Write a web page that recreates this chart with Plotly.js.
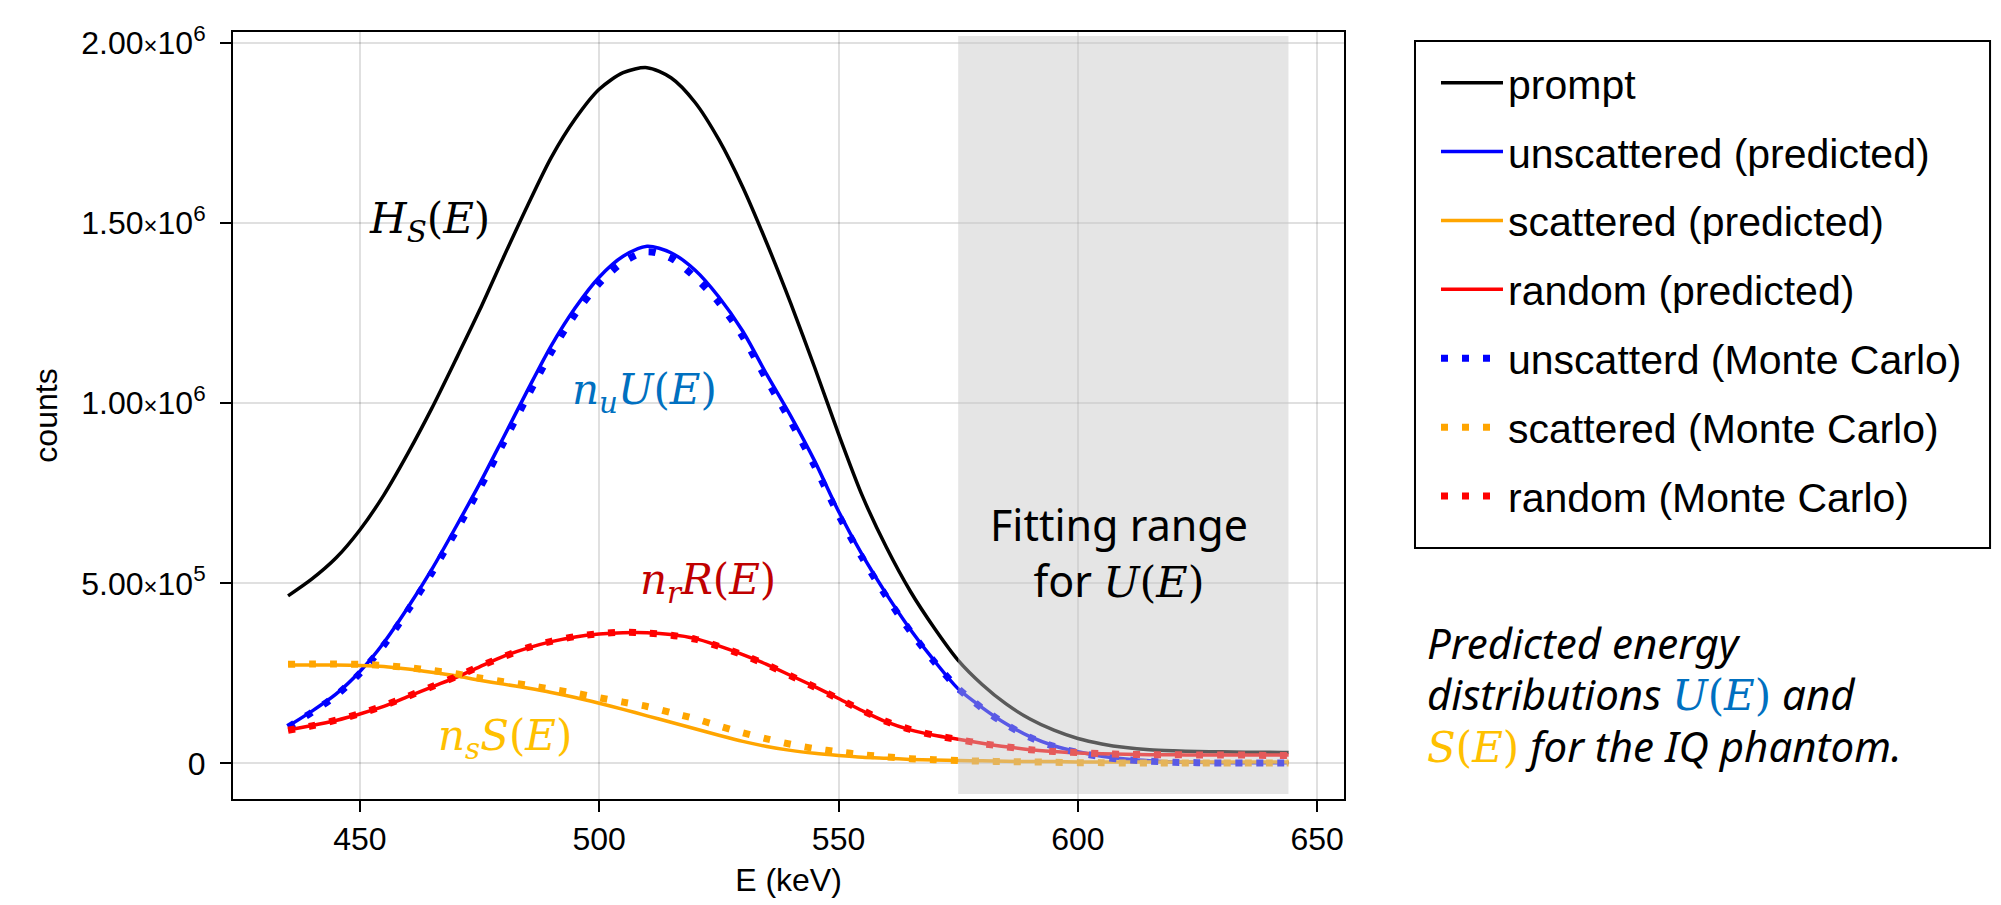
<!DOCTYPE html>
<html>
<head>
<meta charset="utf-8">
<script src="https://cdn.plot.ly/plotly-3.0.1.min.js"></script>
<style>
html,body{margin:0;padding:0;background:#ffffff;}
#chart{width:2001px;height:905px;}
</style>
</head>
<body>
<div id="chart"></div>
<script>
// ---- data ----
const energy = [435,440,445,450,455,460,465,470,475,480,485,490,495,500,505,510,515,520,525,530,535,540,545,550,555,560,565,570,575,580,585,590,595,600,605,610,615,620,625,630,635,640,644];

const promptCounts = [465000,512000,570000,648000,745000,860000,985000,1120000,1258000,1405000,1548000,1683000,1790000,1872000,1918000,1932000,1904000,1836000,1732000,1600000,1445000,1278000,1100000,915000,742000,600000,478000,376000,286000,219000,165000,123000,92000,69000,54000,44000,38000,35000,33000,32000,31000,31000,30000];

const unscatteredPred = [103000,145000,192000,255000,335000,432000,538000,655000,776000,905000,1035000,1160000,1265000,1350000,1408000,1436000,1418000,1370000,1295000,1200000,1080000,965000,840000,700000,578000,470000,372000,285000,207000,155000,110000,74000,49000,32000,20000,12000,7000,4000,3000,2000,2000,2000,2000];

const scatteredPred = [273000,273000,273000,272000,269000,262000,253000,243000,231000,220000,209000,197000,183000,167000,150000,132000,114000,96000,78000,61000,47000,36000,28000,22000,17000,14000,11000,9000,8000,7000,6000,5000,5000,4000,4000,4000,4000,4000,4000,4000,4000,4000,4000];

const randomPred = [93000,105000,119000,137000,158000,185000,212000,238000,268000,297000,320000,338000,351000,359000,363000,363000,358000,347000,326000,302000,275000,244000,213000,180000,146000,115000,93000,78000,67000,56000,46000,38000,33000,29000,27000,25000,24000,24000,23000,23000,23000,23000,23000];

const unscatteredMC = [100000,142000,188000,250000,328000,424000,528000,643000,763000,890000,1018000,1142000,1248000,1333000,1392000,1421000,1403000,1350000,1280000,1185000,1065000,950000,826000,690000,570000,463000,367000,282000,208000,153000,108000,72000,47000,30000,18000,10000,6000,3000,2000,1000,1000,1000,1000];

const scatteredMC = [275000,276000,276000,275000,272000,266000,258000,249000,237000,227000,217000,206000,195000,182000,170000,158000,141000,124000,104000,85000,68000,53000,41000,32000,24000,18000,13000,10000,8000,6000,5000,4000,3000,2000,2000,1000,1000,1000,1000,1000,1000,1000,1000];

const randomMC = [92000,104000,120000,138000,160000,186000,213000,240000,269000,296000,321000,339000,352000,360000,364000,362000,356000,345000,325000,301000,274000,243000,212000,179000,147000,116000,94000,78000,66000,55000,46000,38000,33000,30000,27000,25000,24000,24000,23000,23000,23000,22000,22000];

const seriesNames = ["prompt","unscattered (predicted)","scattered (predicted)","random (predicted)","unscatterd (Monte Carlo)","scattered (Monte Carlo)","random (Monte Carlo)"];

const xTickVals = [450,500,550,600,650];
const yTickVals = [0,500000,1000000,1500000,2000000];
const timesSign = "<span style=\"font-size:24px\">×</span>";
const yTickText = ["0","5.00"+timesSign+"10<sup>5</sup>","1.00"+timesSign+"10<sup>6</sup>","1.50"+timesSign+"10<sup>6</sup>","2.00"+timesSign+"10<sup>6</sup>"];

const fittingRange = [575, 644];

// ---- traces ----
const solidW = 3.5;
const dotW = 7;
const dotDash = "7px,14px";
function tr(y, name, color, dotted, grp){
  return {
    x: energy, y: y, name: name, type: "scatter", mode: "lines",
    legendgroup: grp,
    line: {color: color, width: dotted ? dotW : solidW, dash: dotted ? dotDash : "solid", shape: "spline", smoothing: 0.8},
    hoverinfo: "skip"
  };
}
const traces = [
  tr(promptCounts, seriesNames[0], "#000000", false, "g1"),
  tr(unscatteredPred, seriesNames[1], "#0000ff", false, "g2"),
  tr(scatteredPred, seriesNames[2], "#ffa500", false, "g3"),
  tr(randomPred, seriesNames[3], "#ff0000", false, "g4"),
  tr(unscatteredMC, seriesNames[4], "#0000ff", true, "g5"),
  tr(scatteredMC, seriesNames[5], "#ffa500", true, "g6"),
  tr(randomMC, seriesNames[6], "#ff0000", true, "g7")
];

const sans = "Liberation Sans, Arial, sans-serif";
const mathFont = "DejaVu Serif, serif";
const noteFont = "Noto Sans, sans-serif";
const gridC = "rgba(0,0,0,0.12)";

function mathNote(x, y, text, color){
  return {x: x, y: y, xref: "x", yref: "y", text: text, showarrow: false,
    xanchor: "center", yanchor: "middle",
    font: {family: mathFont, size: 42, color: color}};
}
function captionLine(y, text){
  return {x: 1.0729, y: y, xref: "paper", yref: "paper", showarrow: false,
    xanchor: "left", yanchor: "middle", align: "left", text: text,
    font: {family: noteFont, size: 42, color: "#000000"}};
}

const annotations = [
  mathNote(464.6, 1504000, "<i>H</i><sub><i>S</i></sub>(<i>E</i>)", "#000000"),
  mathNote(509.5, 1031000, "<i>n</i><sub><i>u</i></sub><i>U</i>(<i>E</i>)", "#0070c0"),
  mathNote(522.7, 501000, "<i>n</i><sub><i>r</i></sub><i>R</i>(<i>E</i>)", "#c00000"),
  mathNote(480.3, 68000, "<i>n</i><sub><i>s</i></sub><i>S</i>(<i>E</i>)", "#ffc000"),
  {x: 608.5, y: 585600, xref: "x", yref: "y", showarrow: false, align: "center",
   text: "Fitting range<br>for <span style=\"font-family:'DejaVu Serif'\"><i>U</i>(<i>E</i>)</span>",
   xanchor: "center", yanchor: "middle", font: {family: noteFont, size: 43, color: "#000000"}},
  captionLine(0.2034, "<i>Predicted energy</i>"),
  captionLine(0.1369, "<i>distributions </i><span style=\"font-family:'DejaVu Serif';fill:#0070c0\"><i>U</i>(<i>E</i>)</span><i> and</i>"),
  captionLine(0.0704, "<span style=\"font-family:'DejaVu Serif';fill:#ffc000\"><i>S</i>(<i>E</i>)</span><i> for the IQ phantom.</i>")
];

const layout = {
  width: 2001, height: 905,
  margin: {l: 233, r: 657, t: 32, b: 106, pad: 0},
  paper_bgcolor: "#ffffff", plot_bgcolor: "#ffffff",
  font: {family: sans, size: 32, color: "#000000"},
  showlegend: true,
  xaxis: {
    range: [423.5, 655.6], tickvals: xTickVals, ticktext: xTickVals.map(String),
    showgrid: true, gridcolor: gridC, gridwidth: 2, zeroline: false,
    showline: true, linecolor: "#000000", linewidth: 2, mirror: true,
    ticks: "outside", ticklen: 11, tickwidth: 2, tickcolor: "#000000",
    tickfont: {family: sans, size: 32, color: "#000000"},
    title: {text: "E (keV)", font: {family: sans, size: 32, color: "#000000"}, standoff: 12},
    automargin: false
  },
  yaxis: {
    range: [-99000, 2031000], tickvals: yTickVals, ticktext: yTickText,
    showgrid: true, gridcolor: gridC, gridwidth: 2, zeroline: false,
    showline: true, linecolor: "#000000", linewidth: 2, mirror: true,
    ticks: "outside", ticklen: 11, tickwidth: 2, tickcolor: "#000000",
    ticklabelstandoff: 8,
    tickfont: {family: sans, size: 32, color: "#000000"},
    title: {text: "counts", font: {family: sans, size: 32, color: "#000000"}, standoff: 14},
    automargin: false
  },
  legend: {
    x: 1.0828, y: 0.9772, xref: "paper", yref: "paper", xanchor: "left", yanchor: "top",
    bgcolor: "rgba(0,0,0,0)", borderwidth: 0,
    font: {family: sans, size: 41, color: "#000000"},
    itemwidth: 62, tracegroupgap: 12.6, traceorder: "grouped"
  },
  shapes: [{
    type: "rect", xref: "x", yref: "y", x0: fittingRange[0], x1: fittingRange[1],
    y0: -85000, y1: 2020000, fillcolor: "rgb(198,198,198)", opacity: 0.455,
    line: {width: 0}, layer: "above"
  }, {
    type: "rect", xref: "paper", yref: "paper", x0: 1.0639, x1: 1.5815, y0: 0.3272, y1: 0.9883,
    fillcolor: "rgba(0,0,0,0)", line: {color: "#000000", width: 2}, layer: "above"
  }],
  annotations: annotations
};

Plotly.newPlot("chart", traces, layout, {staticPlot: true, displayModeBar: false});
</script>
</body>
</html>
